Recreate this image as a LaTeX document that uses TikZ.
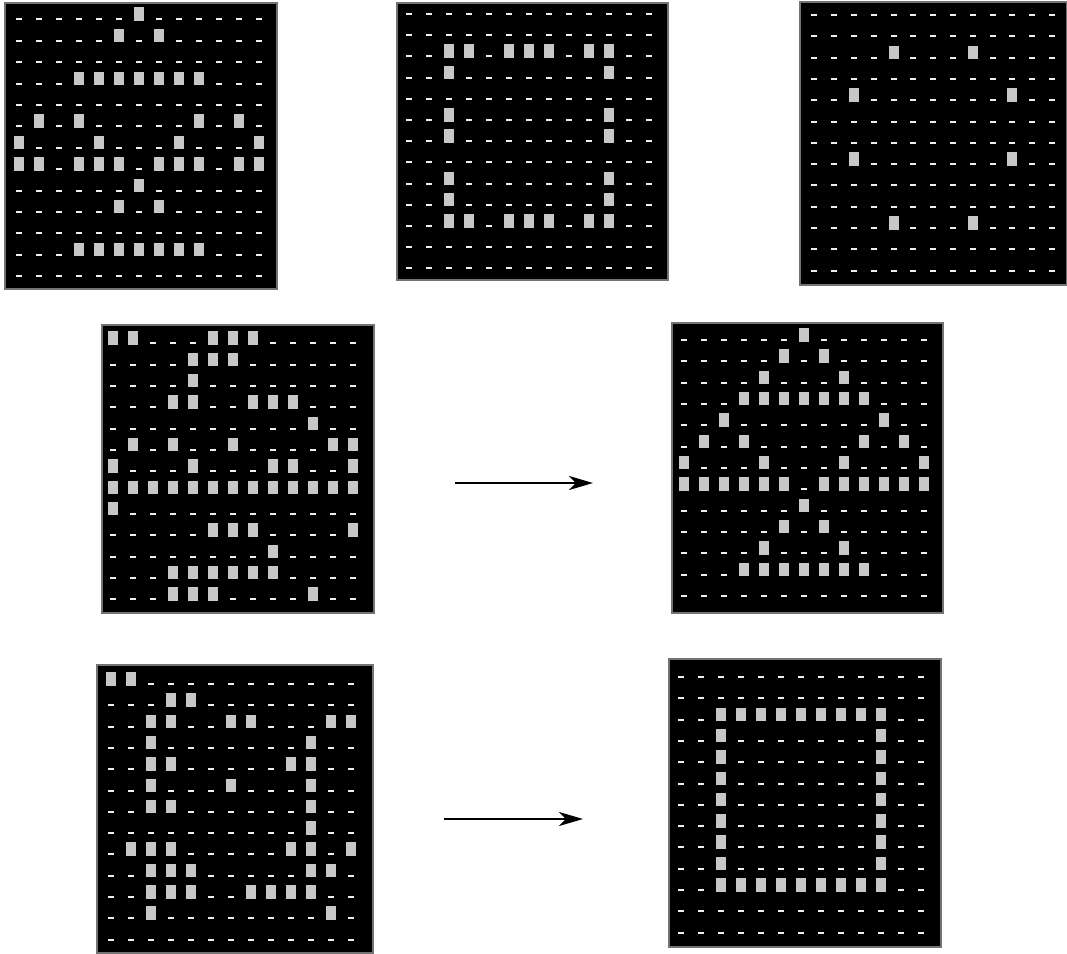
\documentclass[tikz,border=0pt]{standalone}
\usetikzlibrary{arrows.meta}
\definecolor{oncol}{gray}{0.78}
\definecolor{offcol}{gray}{0.93}
\tikzset{
  gridbg/.style={fill=black, draw=black!55, line width=1.2pt},
  offmark/.style={fill=offcol},
  onmark/.style={fill=oncol},
  arr/.style={line width=2.6pt, -{Stealth[length=24pt,width=14pt,inset=7pt]}}
}
% #1 left #2 top #3 right #4 bottom #5 cx0 #6 cy0 #7 px #8 py #9 on-cells (row/{cols})
\newcommand\drawpattern[9]{%
  \path[gridbg] (#1,#2) rectangle (#3,#4);
  \foreach \r in {1,...,13}{\foreach \c in {1,...,13}{
    \fill[offmark] ({#5+(\c-1)*#7},{#6+(\r-1)*#8}) ++(-3,-1) rectangle ++(6,2);}}
  \foreach \r/\cols in {#9}{\foreach \c in \cols{
    \fill[onmark] ({#5+(\c-1)*#7},{#6+(\r-1)*#8}) ++(-5,-12) rectangle ++(10,13.5);}}
}
\begin{document}
\begin{tikzpicture}[x=1pt,y=-1pt]
\useasboundingbox (0,0) rectangle (1067,953);
\fill[white] (0,0) rectangle (1067,953);
% grid 1 (top left)
\drawpattern{5}{3}{277}{289}{19.3}{19.3}{20}{21.4}{%
  1/{7},2/{6,8},4/{4,...,10},6/{2,4,10,12},7/{1,5,9,13},
  8/{1,2,4,5,6,8,9,10,12,13},9/{7},10/{6,8},12/{4,...,10}}
% grid 2 (top middle)
\drawpattern{397}{3}{668}{280}{409.3}{14}{20}{21.2}{%
  3/{3,4,6,7,8,10,11},4/{3,11},6/{3,11},7/{3,11},9/{3,11},10/{3,11},
  11/{3,4,6,7,8,10,11}}
% grid 3 (top right)
\drawpattern{800}{2}{1067}{285}{814.3}{15}{19.8}{21.3}{%
  3/{5,9},5/{3,11},8/{3,11},11/{5,9}}
% grid 4 (middle left)
\drawpattern{102}{325}{374}{613}{113.3}{343.3}{20}{21.33}{%
  1/{1,2,6,7,8},2/{5,6,7},3/{5},4/{4,5,8,9,10},5/{11},
  6/{2,4,7,12,13},7/{1,5,9,10,13},8/{1,...,13},9/{1},
  10/{6,7,8,13},11/{9},12/{4,...,9},13/{4,5,6,11}}
% grid 5 (middle right)
\drawpattern{672}{323}{943}{613}{684.3}{340}{20}{21.33}{%
  1/{7},2/{6,8},3/{5,9},4/{4,...,10},5/{3,11},6/{2,4,10,12},
  7/{1,5,9,13},8/{1,...,6,8,9,10,11,12,13},9/{7},10/{6,8},11/{5,9},
  12/{4,...,10}}
% grid 6 (bottom left)
\drawpattern{97}{665}{373}{953}{110.7}{684}{20}{21.3}{%
  1/{1,2},2/{4,5},3/{3,4,7,8,12,13},4/{3,11},5/{3,4,10,11},
  6/{3,7,11},7/{3,4,11},8/{11},9/{2,3,4,10,11,13},10/{3,4,5,11,12},
  11/{3,4,5,8,9,10,11},12/{3,12}}
% grid 7 (bottom right)
\drawpattern{669}{659}{941}{947}{681.3}{677}{20}{21.3}{%
  3/{3,...,11},4/{3,11},5/{3,11},6/{3,11},7/{3,11},8/{3,11},9/{3,11},
  10/{3,11},11/{3,...,11}}
% arrows
\coordinate (a1s) at (455,483);
\coordinate (a1e) at (593,483);
\coordinate (a2s) at (444,819);
\coordinate (a2e) at (583,819);
\draw[arr] (a1s) -- (a1e);
\draw[arr] (a2s) -- (a2e);
\end{tikzpicture}
\end{document}
